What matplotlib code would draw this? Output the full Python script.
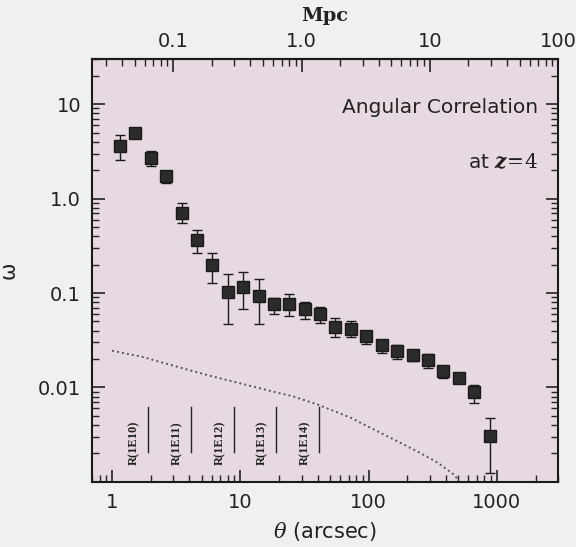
import matplotlib
matplotlib.use("Agg")
import matplotlib.pyplot as plt
import numpy as np
from matplotlib.ticker import FixedLocator, FixedFormatter, NullFormatter, LogLocator

# angular correlation measurements
theta = [1.15, 1.52, 2.0, 2.64, 3.49, 4.6, 6.06, 8.0, 10.5, 13.9, 18.3, 24.1, 31.8,
         41.9, 55, 73, 96, 127, 167, 220, 290, 382, 504, 664, 876]
omega = [3.6, 4.95, 2.7, 1.75, 0.71, 0.36, 0.197, 0.103, 0.116, 0.093, 0.077, 0.077,
         0.068, 0.060, 0.044, 0.042, 0.035, 0.028, 0.0245, 0.0222, 0.0197, 0.0148,
         0.0127, 0.0089, 0.0031]
omega_hi = [4.7, 5.3, 3.2, 1.92, 0.89, 0.46, 0.264, 0.158, 0.166, 0.14, 0.088, 0.098,
            0.080, 0.071, 0.055, 0.050, 0.040, 0.032, 0.028, 0.025, 0.0227, 0.0165,
            0.0140, 0.0106, 0.0048]
omega_lo = [2.57, 4.6, 2.22, 1.47, 0.545, 0.264, 0.127, 0.047, 0.068, 0.047, 0.060,
            0.057, 0.053, 0.048, 0.034, 0.034, 0.029, 0.023, 0.020, 0.019, 0.0162,
            0.0125, 0.0113, 0.0069, 0.00125]

# dotted model curve
model_theta = [1.0, 1.72, 3.1, 5.8, 10.7, 19.5, 25.4, 40, 72, 130, 240, 345, 460, 500]
model_omega = [0.0245, 0.0211, 0.0168, 0.0133, 0.0108, 0.0088, 0.0081, 0.0066,
               0.0048, 0.0032, 0.0021, 0.0016, 0.0012, 0.00105]

# mass scale markers
mass_labels = ["R(1E10)", "R(1E11)", "R(1E12)", "R(1E13)", "R(1E14)"]
mass_theta = [1.9, 4.1, 8.85, 19.1, 41.1]

arcsec_per_mpc = 30.0

plt.rcParams["mathtext.fontset"] = "dejavuserif"

fig = plt.figure(figsize=(5.76, 5.47), dpi=100, facecolor="#eef1ef")
ax = fig.add_axes([0.160, 0.119, 0.809, 0.773])
ax.set_facecolor("#e6d9e1")

ax.set_xscale("log")
ax.set_yscale("log")
ax.set_xlim(0.7, 3000)
ax.set_ylim(0.001, 30)

om = np.array(omega)
yerr = [om - np.array(omega_lo), np.array(omega_hi) - om]
ax.errorbar(theta, omega, yerr=yerr, fmt="s", color="#2b2b2b", ms=8,
            mec="#1a1a1a", ecolor="#1a1a1a", elinewidth=1.0, capsize=3.5,
            capthick=1.0, zorder=3)

ax.plot(model_theta, model_omega, color="#555555", lw=1.4,
        linestyle=(0, (1, 1.6)))

for lab, t in zip(mass_labels, mass_theta):
    ax.plot([t, t], [0.0062, 0.00207], color="#222222", lw=1.0)
    ax.text(t * 0.78, 0.0026, lab, rotation=90, ha="center", va="center",
            fontsize=9, family="Liberation Serif", weight="bold",
            color="#222222")

ax.text(0.957, 0.886, "Angular Correlation", transform=ax.transAxes,
        ha="right", va="center", fontsize=14.5, color="#222222")
ax.text(0.957, 0.756, r"at $\mathbfit{z}\!=\!4$", transform=ax.transAxes,
        ha="right", va="center", fontsize=14.5, color="#222222")

ax.xaxis.set_major_locator(FixedLocator([1, 10, 100, 1000]))
ax.xaxis.set_major_formatter(FixedFormatter(["1", "10", "100", "1000"]))
ax.xaxis.set_minor_locator(LogLocator(base=10, subs=np.arange(2, 10)))
ax.xaxis.set_minor_formatter(NullFormatter())
ax.yaxis.set_major_locator(FixedLocator([0.01, 0.1, 1, 10]))
ax.yaxis.set_major_formatter(FixedFormatter(["0.01", "0.1", "1.0", "10"]))
ax.yaxis.set_minor_locator(LogLocator(base=10, subs=np.arange(2, 10)))
ax.yaxis.set_minor_formatter(NullFormatter())

ax.tick_params(which="both", direction="in", right=True, top=False,
               labelsize=14, colors="#222222", pad=8)
ax.tick_params(which="major", length=9, width=1.2)
ax.tick_params(which="minor", length=5, width=1.0)
for s in ax.spines.values():
    s.set_linewidth(1.5)
    s.set_color("#1a1a1a")

sec = ax.secondary_xaxis("top", functions=(lambda x: x / arcsec_per_mpc,
                                           lambda x: x * arcsec_per_mpc))
sec.xaxis.set_major_locator(FixedLocator([0.1, 1, 10, 100]))
sec.xaxis.set_major_formatter(FixedFormatter(["0.1", "1.0", "10", "100"]))
sec.xaxis.set_minor_locator(LogLocator(base=10, subs=np.arange(2, 10)))
sec.xaxis.set_minor_formatter(NullFormatter())
sec.tick_params(which="both", direction="in", labelsize=14, colors="#222222", pad=6)
sec.tick_params(which="major", length=9, width=1.2)
sec.tick_params(which="minor", length=5, width=1.0)
sec.spines["top"].set_linewidth(1.5)
sec.set_xlabel("Mpc", family="DejaVu Serif", weight="bold", fontsize=14,
               labelpad=8, color="#222222")

ax.set_xlabel(r"$\theta$ (arcsec)", fontsize=15, color="#222222", labelpad=6)
ax.set_ylabel("ω", fontsize=15, color="#222222", labelpad=14)

fig.savefig("out.png", dpi=100, facecolor=fig.get_facecolor())
